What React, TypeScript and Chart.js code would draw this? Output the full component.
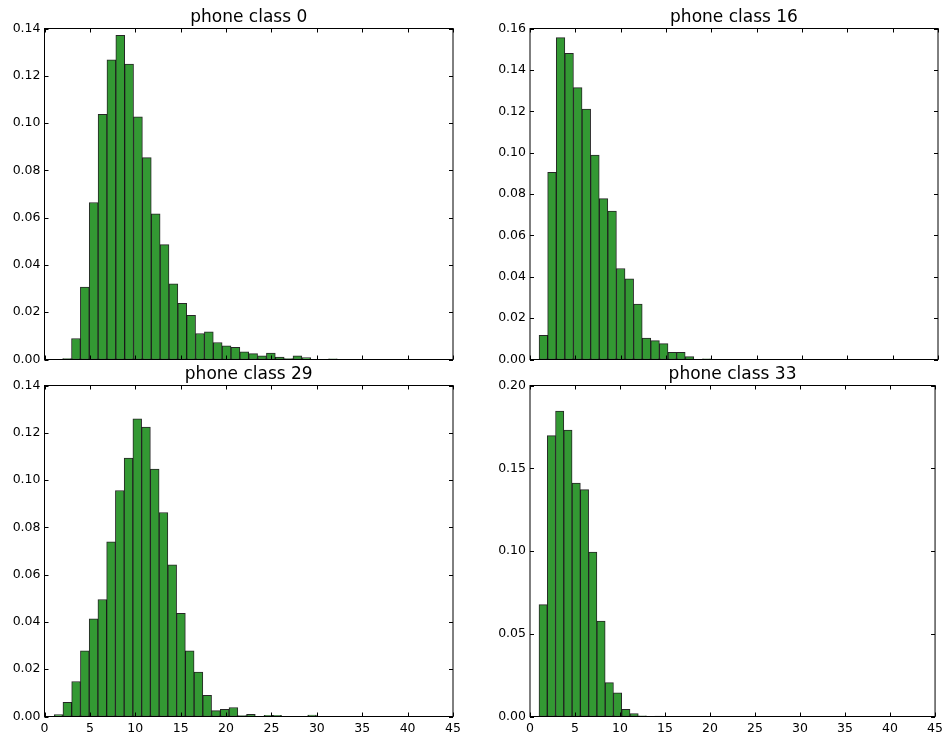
import React, { useEffect, useRef } from "react";
import { Chart, registerables } from "chart.js";
Chart.register(...registerables);

// Histogram bar heights (normalized frequencies), one value per bin
const class0Values = [0.0004, 0.0089, 0.0306, 0.0664, 0.1037, 0.1268, 0.1371, 0.125, 0.1026, 0.0854, 0.0616, 0.0486, 0.032, 0.0238, 0.0187, 0.011, 0.0117, 0.0072, 0.0058, 0.0051, 0.0032, 0.0025, 0.0016, 0.0027, 0.001, 0.0004, 0.0016, 0.0008, 0, 0, 0.0003];
const class16Values = [0.0117, 0.0905, 0.1556, 0.148, 0.1314, 0.121, 0.0988, 0.0778, 0.0717, 0.044, 0.039, 0.0268, 0.0104, 0.0091, 0.0077, 0.0035, 0.0035, 0.0014, 0, 0.0003];
const class29Values = [0.0008, 0.006, 0.0148, 0.0278, 0.0413, 0.0495, 0.0739, 0.0956, 0.1093, 0.1259, 0.1224, 0.1046, 0.0863, 0.0641, 0.0436, 0.0278, 0.0188, 0.009, 0.0025, 0.003, 0.0038, 0.0004, 0.0009, 0, 0.0005, 0.0005, 0, 0, 0, 0.0006];
const class33Values = [0.0676, 0.1697, 0.1846, 0.1731, 0.141, 0.1371, 0.0993, 0.0577, 0.0205, 0.0143, 0.0044, 0.0018, 0.0004, 0, 0.0003];

// Bin definitions: first bin edge and bin width
const class0Bins = { start: 2.0, width: 0.976 };
const class16Bins = { start: 1.0, width: 0.948 };
const class29Bins = { start: 1.07, width: 0.963 };
const class33Bins = { start: 1.0, width: 0.919 };

const titles = ["phone class 0", "phone class 16", "phone class 29", "phone class 33"];
const xTickLabels = [0, 5, 10, 15, 20, 25, 30, 35, 40, 45];
const yMaxes = [0.14, 0.16, 0.14, 0.2];
const ySteps = [0.02, 0.02, 0.02, 0.05];

const W = 948;
const H = 738;
const FONT = "'DejaVu Sans', sans-serif";

type Panel = {
  values: number[];
  bins: { start: number; width: number };
  title: string;
  yMax: number;
  yStep: number;
  area: { l: number; t: number; r: number; b: number };
  showX: boolean;
};

const panels: Panel[] = [
  { values: class0Values, bins: class0Bins, title: titles[0], yMax: yMaxes[0], yStep: ySteps[0], area: { l: 44.5, t: 28.5, r: 453, b: 359.5 }, showX: false },
  { values: class16Values, bins: class16Bins, title: titles[1], yMax: yMaxes[1], yStep: ySteps[1], area: { l: 530, t: 28.5, r: 938, b: 359.5 }, showX: false },
  { values: class29Values, bins: class29Bins, title: titles[2], yMax: yMaxes[2], yStep: ySteps[2], area: { l: 44.5, t: 385.5, r: 453, b: 716.5 }, showX: true },
  { values: class33Values, bins: class33Bins, title: titles[3], yMax: yMaxes[3], yStep: ySteps[3], area: { l: 530, t: 385.5, r: 938, b: 716.5 }, showX: true },
];

const Y_AXIS_W = 44.5;
const X_AXIS_H = 20;
const TICK_LEN = 4;

function PanelChart({ panel }: { panel: Panel }) {
  const ref = useRef<HTMLCanvasElement | null>(null);
  useEffect(() => {
    if (!ref.current) return;
    const data = panel.values.map((v, i) => ({
      x: panel.bins.start + panel.bins.width * (i + 0.5),
      y: v,
    }));
    const framePlugin = {
      id: "frame",
      afterDatasetsDraw(chart: any) {
        const ctx = chart.ctx;
        const ca = chart.chartArea;
        const xs = chart.scales.x;
        const ys = chart.scales.y;
        ctx.save();
        ctx.strokeStyle = "#000";
        ctx.lineWidth = 1;
        ctx.beginPath();
        for (const t of xTickLabels) {
          const px = Math.round(xs.getPixelForValue(t)) + 0.5;
          ctx.moveTo(px, ca.bottom);
          ctx.lineTo(px, ca.bottom - TICK_LEN);
          ctx.moveTo(px, ca.top);
          ctx.lineTo(px, ca.top + TICK_LEN);
        }
        for (const tk of ys.ticks) {
          const py = Math.round(ys.getPixelForValue(tk.value)) + 0.5;
          ctx.moveTo(ca.left, py);
          ctx.lineTo(ca.left + TICK_LEN, py);
          ctx.moveTo(ca.right, py);
          ctx.lineTo(ca.right - TICK_LEN, py);
        }
        ctx.stroke();
        ctx.strokeRect(ca.left, ca.top, ca.right - ca.left, ca.bottom - ca.top);
        ctx.fillStyle = "#000";
        ctx.font = `17px ${FONT}`;
        ctx.textAlign = "center";
        ctx.textBaseline = "alphabetic";
        ctx.fillText(panel.title, (ca.left + ca.right) / 2, ca.top - 6.5);
        ctx.restore();
      },
    };
    const a = panel.area;
    const chart = new Chart(ref.current, {
      type: "bar",
      data: {
        datasets: [
          {
            data: data as any,
            backgroundColor: "rgb(51,153,51)",
            borderColor: "rgba(0,0,0,0.85)",
            borderWidth: 1,
            borderSkipped: false,
            barPercentage: 1,
            categoryPercentage: 1,
          },
        ],
      },
      options: {
        animation: false,
        responsive: false,
        events: [],
        layout: {
          padding: {
            left: a.l - Y_AXIS_W,
            top: a.t,
            right: W - a.r,
            bottom: H - a.b - X_AXIS_H,
          },
        },
        plugins: {
          legend: { display: false },
          tooltip: { enabled: false },
          title: { display: false },
        },
        scales: {
          x: {
            type: "linear",
            offset: false,
            min: 0,
            max: 45,
            grid: { display: false, drawTicks: false },
            border: { display: false },
            ticks: {
              display: panel.showX,
              stepSize: 5,
              padding: 5,
              color: "#000",
              font: { family: FONT, size: 12.5 },
              maxRotation: 0,
              autoSkip: false,
              callback: (v: any) => String(v),
            },
            afterFit: (s: any) => {
              s.height = X_AXIS_H;
            },
          },
          y: {
            type: "linear",
            min: 0,
            max: panel.yMax,
            grid: { display: false, drawTicks: false },
            border: { display: false },
            ticks: {
              stepSize: panel.yStep,
              padding: 4,
              color: "#000",
              font: { family: FONT, size: 12.5 },
              callback: (v: any) => Number(v).toFixed(2),
            },
            afterFit: (s: any) => {
              s.width = Y_AXIS_W;
            },
          },
        },
      },
      plugins: [framePlugin],
    });
    return () => chart.destroy();
  }, [panel]);
  return (
    <canvas
      ref={ref}
      width={W}
      height={H}
      style={{ position: "absolute", left: 0, top: 0, width: W, height: H }}
    />
  );
}

export default function App() {
  return (
    <div style={{ position: "absolute", left: 0, top: 0, width: W, height: H, background: "#fff" }}>
      {panels.map((p, i) => (
        <PanelChart key={i} panel={p} />
      ))}
    </div>
  );
}
